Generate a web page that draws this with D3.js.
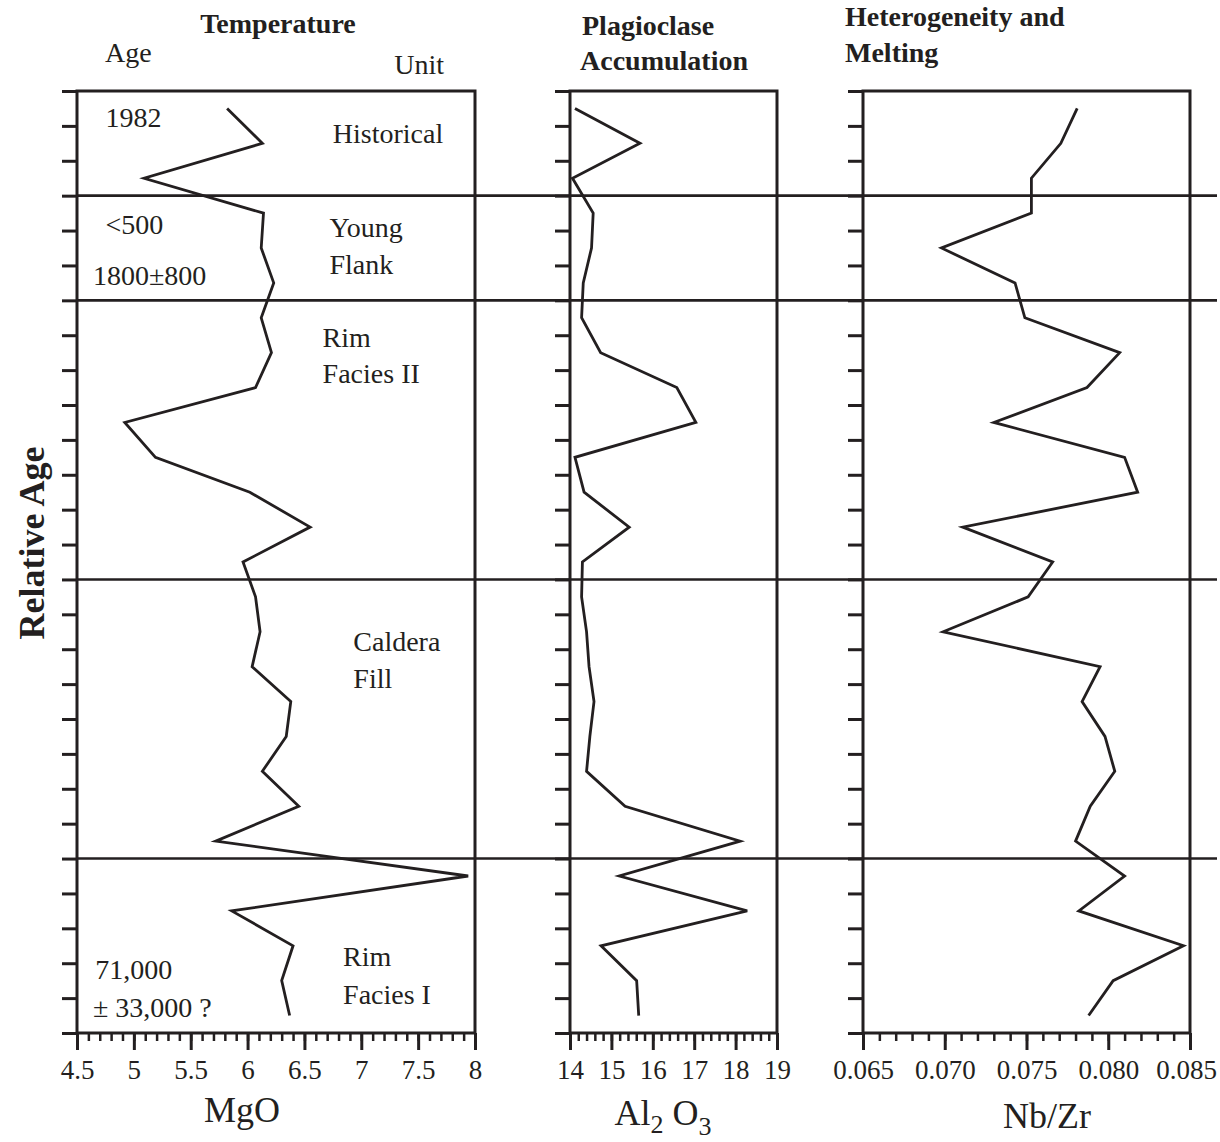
<!DOCTYPE html>
<html>
<head>
<meta charset="utf-8">
<script src="https://cdn.jsdelivr.net/npm/d3@7"></script>
<style>
  body { margin: 0; background: #fff; }
  text { font-family: "Liberation Serif", "Times New Roman", serif; fill: #231f20; }
</style>
</head>
<body>
<div id="chart"></div>
<script>
// relative age position of each sample (stratigraphic order, top = youngest)
const samplePos = [0.5, 1.5, 2.5, 3.5, 4.5, 5.5, 6.5, 7.5, 8.5, 9.5, 10.5, 11.5, 12.5, 13.5,
  14.5, 15.5, 16.5, 17.5, 18.5, 19.5, 20.5, 21.5, 22.5, 23.5, 24.5, 25.5, 26.5];

const mgo = [5.82, 6.13, 5.09, 6.14, 6.12, 6.23, 6.12, 6.21, 6.07, 4.92, 5.19, 6.02, 6.55, 5.96,
  6.07, 6.11, 6.04, 6.38, 6.34, 6.13, 6.45, 5.72, 7.94, 5.86, 6.40, 6.30, 6.37];

const al2o3 = [14.12, 15.69, 14.06, 14.56, 14.52, 14.32, 14.28, 14.74, 16.58, 17.04, 14.12, 14.34, 15.43, 14.30,
  14.28, 14.40, 14.46, 14.58, 14.48, 14.40, 15.33, 18.11, 15.19, 18.28, 14.75, 15.61, 15.66];

const nbzr = [0.0781, 0.0771, 0.0753, 0.0753, 0.0698, 0.0743, 0.0749, 0.0807, 0.0787, 0.0730, 0.0810, 0.0818, 0.0711, 0.0766,
  0.0751, 0.0699, 0.0795, 0.0784, 0.0798, 0.0804, 0.0789, 0.0780, 0.0810, 0.0782, 0.0846, 0.0803, 0.0788];

// boundaries between volcanic units (in relative-age units)
const unitBreaks = [3, 6, 14, 22];

// tick labels
const ageTicks = d3.range(0, 28);
const mgoTicks = [4.5, 5, 5.5, 6, 6.5, 7, 7.5, 8];
const alTicks = [14, 15, 16, 17, 18, 19];
const nbTicks = [0.065, 0.070, 0.075, 0.080, 0.085];

const unitNames = ["Historical", "Young", "Flank", "Rim", "Facies II", "Caldera", "Fill", "Rim", "Facies I"];
const ageNotes = ["1982", "<500", "1800±800", "71,000", "± 33,000 ?"];

const W = 1220, H = 1142;
const plotTop = 91, plotBottom = 1033;
const ink = "#231f20";

const svg = d3.select("#chart").append("svg")
  .attr("width", W)
  .attr("height", H);

const y = d3.scaleLinear().domain([0, 27]).range([plotTop, plotBottom]);

const panels = [
  { values: mgo, x: d3.scaleLinear().domain([4.5, 8]).range([77, 475]), ticks: mgoTicks, minor: 35, fmt: d => String(d) },
  { values: al2o3, x: d3.scaleLinear().domain([14, 19]).range([570, 777]), ticks: alTicks, minor: 25, fmt: d => String(d) },
  { values: nbzr, x: d3.scaleLinear().domain([0.065, 0.085]).range([863, 1190]), ticks: nbTicks, minor: 20, fmt: d3.format(".3f") }
];

// unit boundary lines run across all three panels
svg.append("g").selectAll("line")
  .data(unitBreaks)
  .join("line")
    .attr("x1", 77)
    .attr("x2", 1217)
    .attr("y1", d => y(d))
    .attr("y2", d => y(d))
    .attr("stroke", ink)
    .attr("stroke-width", 2.6);

panels.forEach(p => {
  const [x0, x1] = p.x.range();

  // left ticks (relative age), no labels
  const ax = svg.append("g")
    .attr("transform", `translate(${x0},0)`)
    .call(d3.axisLeft(y).tickValues(ageTicks).tickSize(15).tickFormat(""));
  ax.select(".domain").remove();
  ax.selectAll("line").attr("stroke", ink).attr("stroke-width", 3);

  // bottom: minor ticks then labelled major ticks
  const minorAx = svg.append("g")
    .attr("transform", `translate(0,${plotBottom})`)
    .call(d3.axisBottom(p.x).ticks(p.minor).tickSize(8).tickFormat(""));
  minorAx.select(".domain").remove();
  minorAx.selectAll("line").attr("stroke", ink).attr("stroke-width", 2.5);

  const majorAx = svg.append("g")
    .attr("transform", `translate(0,${plotBottom})`)
    .call(d3.axisBottom(p.x).tickValues(p.ticks).tickSize(17).tickPadding(10).tickFormat(p.fmt));
  majorAx.select(".domain").remove();
  majorAx.selectAll("line").attr("stroke", ink).attr("stroke-width", 3);
  majorAx.selectAll("text")
    .attr("font-size", 27)
    .attr("fill", ink)
    .style("font-family", '"Liberation Serif", serif');

  // keep the last label inside the page
  majorAx.selectAll("text").filter(d => p.x(d) > 1180).attr("dx", -4);

  // frame
  svg.append("rect")
    .attr("x", x0)
    .attr("y", plotTop)
    .attr("width", x1 - x0)
    .attr("height", plotBottom - plotTop)
    .attr("fill", "none")
    .attr("stroke", ink)
    .attr("stroke-width", 3);

  // profile line
  const line = d3.line()
    .x((d, i) => p.x(d))
    .y((d, i) => y(samplePos[i]));

  svg.append("path")
    .datum(p.values)
    .attr("d", line)
    .attr("fill", "none")
    .attr("stroke", ink)
    .attr("stroke-width", 2.8)
    .attr("stroke-linejoin", "miter");
});

// text labels inside the MgO panel, placed in data units (MgO, relative age)
const xm = panels[0].x;
const unitPos = [[6.75, 1.49], [6.72, 4.18], [6.72, 5.25], [6.66, 7.34], [6.66, 8.37],
  [6.93, 16.05], [6.93, 17.11], [6.84, 25.08], [6.84, 26.17]];
const notePos = [[4.75, 1.03], [4.75, 4.10], [4.64, 5.56], [4.66, 25.45], [4.64, 26.54]];

svg.append("g").selectAll("text")
  .data(unitNames)
  .join("text")
    .attr("x", (d, i) => xm(unitPos[i][0]))
    .attr("y", (d, i) => y(unitPos[i][1]))
    .attr("font-size", 28)
    .text(d => d);

svg.append("g").selectAll("text")
  .data(ageNotes)
  .join("text")
    .attr("x", (d, i) => xm(notePos[i][0]))
    .attr("y", (d, i) => y(notePos[i][1]))
    .attr("font-size", 28)
    .text(d => d);

// column headings
const head = svg.append("g").attr("font-weight", "bold").attr("font-size", 28);
head.append("text").attr("x", 278).attr("y", 33).attr("text-anchor", "middle").text("Temperature");
head.append("text").attr("x", 582).attr("y", 35).text("Plagioclase");
head.append("text").attr("x", 580).attr("y", 70).text("Accumulation");
head.append("text").attr("x", 845).attr("y", 26).text("Heterogeneity and");
head.append("text").attr("x", 845).attr("y", 62).text("Melting");

svg.append("text").attr("x", 105).attr("y", 62).attr("font-size", 28).text("Age");
svg.append("text").attr("x", 444).attr("y", 74).attr("font-size", 28).attr("text-anchor", "end").text("Unit");

// axis titles
svg.append("text")
  .attr("transform", "translate(44,543) rotate(-90)")
  .attr("text-anchor", "middle")
  .attr("font-size", 36)
  .attr("font-weight", "bold")
  .text("Relative Age");

svg.append("text").attr("x", 242).attr("y", 1122).attr("text-anchor", "middle").attr("font-size", 36).text("MgO");
svg.append("text").attr("x", 1047).attr("y", 1128).attr("text-anchor", "middle").attr("font-size", 36).text("Nb/Zr");

const al = svg.append("text").attr("x", 663).attr("y", 1125).attr("text-anchor", "middle").attr("font-size", 36);
al.append("tspan").text("Al");
al.append("tspan").attr("dy", 8).attr("font-size", 26).text("2");
al.append("tspan").attr("dy", -8).text(" O");
al.append("tspan").attr("dy", 10).attr("font-size", 26).text("3");
</script>
</body>
</html>
